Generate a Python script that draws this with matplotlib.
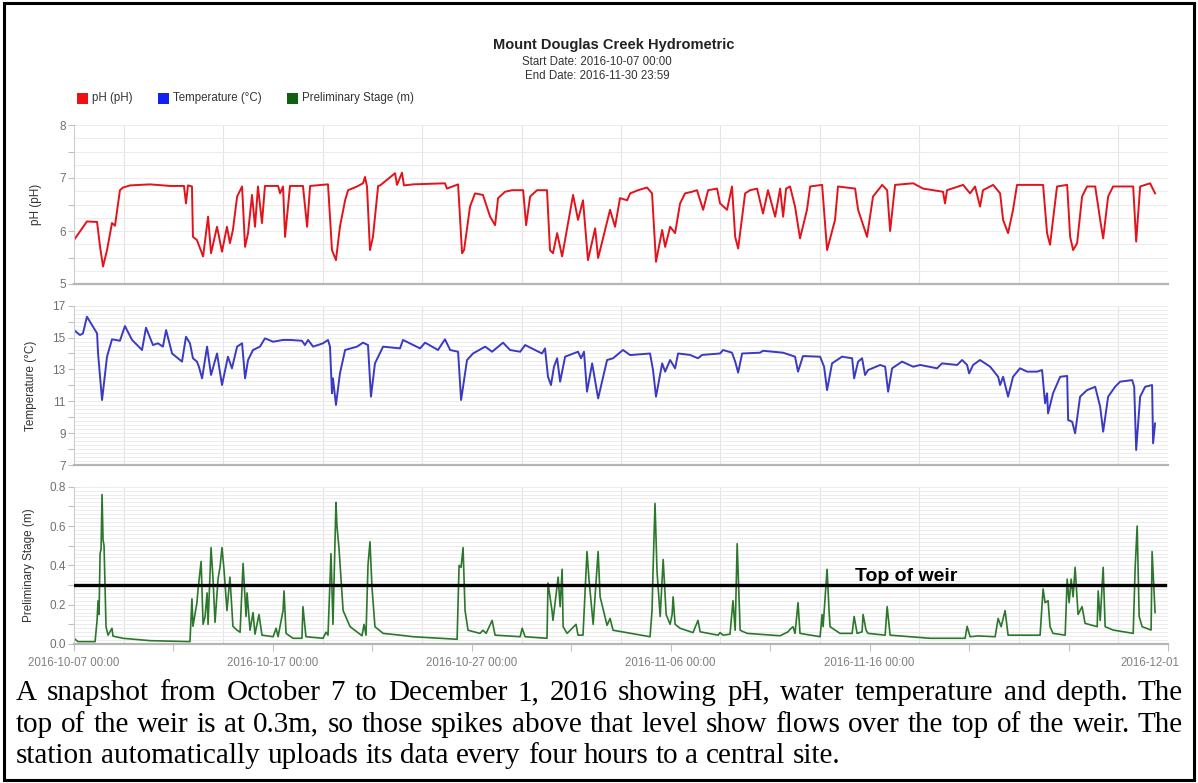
import numpy as np
import pandas as pd
import matplotlib
matplotlib.use("Agg")
import matplotlib.pyplot as plt
import matplotlib.dates as mdates
from matplotlib.ticker import MultipleLocator, FixedLocator, FuncFormatter
from matplotlib.transforms import ScaledTranslation
from matplotlib.patches import Rectangle

# ---------------------------------------------------------------------
# Data (days since 2016-10-07 00:00)
# ---------------------------------------------------------------------
START = pd.Timestamp("2016-10-07 00:00")
N_DAYS = 55

ph_days = [0.00, 0.65, 1.16, 1.31, 1.46, 1.66, 1.91, 2.06, 2.31, 2.46,
           2.82, 3.82, 4.83, 5.53, 5.63, 5.73, 5.93, 5.98, 6.18, 6.49,
           6.74, 6.89, 7.19, 7.44, 7.69, 7.84, 7.99, 8.20, 8.45, 8.60,
           8.75, 8.95, 9.10, 9.25, 9.45, 9.60, 10.26, 10.36, 10.51, 10.61,
           10.86, 11.51, 11.72, 11.87, 12.77, 12.97, 13.17, 13.37, 13.63, 13.78,
           14.23, 14.53, 14.63, 14.73, 14.88, 15.03, 15.29, 15.39, 16.14, 16.24,
           16.49, 16.59, 17.05, 18.65, 18.75, 19.31, 19.51, 19.61, 19.91, 20.16,
           20.56, 20.92, 21.17, 21.32, 21.67, 22.02, 22.58, 22.73, 22.93, 23.28,
           23.78, 23.93, 24.08, 24.29, 24.54, 25.09, 25.34, 25.59, 25.84, 26.20,
           26.35, 26.95, 27.20, 27.45, 27.81, 27.96, 28.36, 28.81, 29.06, 29.26,
           29.57, 29.72, 29.97, 30.22, 30.47, 30.72, 31.07, 31.32, 31.63, 31.88,
           32.33, 32.48, 32.83, 33.08, 33.24, 33.39, 33.74, 33.99, 34.34, 34.64,
           34.89, 35.25, 35.50, 35.65, 35.80, 36.00, 36.25, 36.50, 36.85, 37.01,
           37.61, 37.86, 38.26, 38.41, 39.27, 39.42, 39.87, 40.17, 40.63, 40.88,
           41.03, 41.28, 42.19, 42.69, 43.69, 43.79, 43.89, 44.70, 45.05, 45.30,
           45.55, 45.70, 46.21, 46.56, 46.71, 46.96, 47.21, 47.41, 48.72, 48.92,
           49.07, 49.42, 49.93, 50.08, 50.23, 50.43, 50.68, 50.93, 51.34, 51.59,
           51.74, 51.99, 52.24, 53.25, 53.40, 53.60, 54.10, 54.35]
ph_vals = [5.83, 6.18, 6.17, 5.70, 5.33, 5.64, 6.15, 6.10, 6.77, 6.82,
           6.86, 6.88, 6.85, 6.85, 6.52, 6.86, 6.84, 5.89, 5.83, 5.52,
           6.27, 5.58, 6.08, 5.61, 6.08, 5.77, 6.02, 6.65, 6.84, 5.70,
           5.96, 6.68, 6.08, 6.84, 6.15, 6.85, 6.85, 6.71, 6.84, 5.89,
           6.85, 6.85, 6.08, 6.85, 6.88, 5.64, 5.45, 6.08, 6.58, 6.77,
           6.84, 6.90, 7.02, 6.84, 5.64, 5.89, 6.85, 6.86, 7.09, 6.87,
           7.10, 6.86, 6.88, 6.90, 6.80, 6.88, 5.58, 5.64, 6.46, 6.71,
           6.68, 6.27, 6.11, 6.62, 6.74, 6.77, 6.77, 6.11, 6.65, 6.77,
           6.77, 5.64, 5.58, 5.96, 5.52, 6.68, 6.21, 6.58, 5.45, 6.05,
           5.49, 6.40, 6.08, 6.62, 6.58, 6.71, 6.77, 6.82, 6.71, 5.42,
           6.02, 5.70, 6.08, 5.96, 6.52, 6.71, 6.74, 6.77, 6.40, 6.77,
           6.80, 6.52, 6.40, 6.84, 5.89, 5.67, 6.71, 6.77, 6.80, 6.33,
           6.77, 6.27, 6.80, 6.27, 6.80, 6.84, 6.46, 5.86, 6.40, 6.84,
           6.87, 5.64, 6.21, 6.84, 6.80, 6.40, 5.89, 6.65, 6.87, 6.77,
           6.00, 6.87, 6.90, 6.80, 6.74, 6.52, 6.77, 6.87, 6.71, 6.84,
           6.46, 6.77, 6.87, 6.71, 6.21, 5.96, 6.40, 6.87, 6.87, 5.96,
           5.74, 6.84, 6.87, 5.89, 5.64, 5.77, 6.65, 6.84, 6.84, 6.21,
           5.86, 6.65, 6.84, 6.84, 5.80, 6.84, 6.90, 6.71]

temp_days = [0.00, 0.30, 0.45, 0.65, 1.16, 1.21, 1.41, 1.66, 1.91, 2.31,
             2.56, 2.92, 3.42, 3.62, 3.97, 4.22, 4.47, 4.63, 4.93, 5.43,
             5.63, 5.83, 5.98, 6.18, 6.28, 6.44, 6.69, 6.89, 7.19, 7.44,
             7.74, 7.94, 8.20, 8.45, 8.60, 8.75, 9.00, 9.35, 9.60, 10.01,
             10.51, 10.86, 11.46, 11.61, 11.77, 12.02, 12.52, 12.77, 12.87, 12.97,
             13.02, 13.17, 13.37, 13.63, 14.23, 14.53, 14.78, 14.93, 15.13, 15.54,
             16.39, 16.54, 17.40, 17.65, 18.30, 18.65, 18.91, 19.31, 19.46, 19.76,
             20.06, 20.67, 21.02, 21.57, 21.92, 22.43, 22.68, 23.53, 23.68, 23.83,
             23.98, 24.13, 24.29, 24.44, 24.69, 25.34, 25.49, 25.64, 25.79, 26.05,
             26.35, 26.80, 27.10, 27.60, 27.96, 28.96, 29.11, 29.26, 29.57, 29.72,
             29.97, 30.22, 30.37, 30.97, 31.37, 31.58, 32.48, 32.63, 33.08, 33.24,
             33.39, 33.59, 34.49, 34.64, 35.65, 36.25, 36.40, 36.65, 37.51, 37.71,
             37.86, 38.11, 38.61, 39.12, 39.22, 39.42, 39.62, 39.77, 39.92, 40.53,
             40.78, 40.93, 41.13, 41.63, 42.19, 42.54, 43.39, 43.64, 44.40, 44.65,
             44.90, 45.00, 45.20, 45.55, 46.06, 46.46, 46.56, 46.71, 46.96, 47.21,
             47.56, 47.92, 48.42, 48.67, 48.82, 48.92, 48.97, 49.22, 49.58, 49.93,
             49.98, 50.18, 50.33, 50.58, 50.93, 51.34, 51.59, 51.74, 51.99, 52.34,
             52.59, 53.20, 53.30, 53.40, 53.60, 53.85, 54.20, 54.25, 54.35]
temp_vals = [15.47, 15.16, 15.26, 16.31, 15.26, 14.00, 11.08, 13.80, 14.89, 14.80,
             15.72, 14.85, 14.22, 15.62, 14.53, 14.64, 14.43, 15.47, 14.00, 13.49,
             15.05, 14.64, 13.70, 13.49, 13.17, 12.44, 14.43, 12.65, 14.00, 12.02,
             13.80, 13.07, 14.43, 14.64, 12.44, 13.59, 14.22, 14.43, 14.95, 14.74,
             14.85, 14.85, 14.80, 14.53, 14.85, 14.43, 14.64, 14.85, 14.43, 11.50,
             12.44, 10.77, 12.75, 14.22, 14.43, 14.68, 14.53, 11.29, 13.38, 14.43,
             14.32, 14.85, 14.32, 14.68, 14.22, 14.89, 14.22, 14.11, 11.08, 13.59,
             14.00, 14.43, 14.11, 14.68, 14.22, 14.11, 14.53, 14.00, 14.32, 12.54,
             12.02, 13.17, 13.70, 12.23, 13.80, 14.11, 13.70, 14.11, 11.60, 13.38,
             11.18, 13.59, 13.70, 14.22, 13.90, 14.00, 12.96, 11.29, 13.38, 12.86,
             13.59, 13.07, 14.00, 13.91, 13.70, 13.91, 14.00, 14.22, 14.05, 13.49,
             12.80, 14.00, 14.05, 14.17, 14.05, 13.80, 12.86, 13.84, 13.80, 13.17,
             11.70, 13.38, 13.80, 13.70, 12.44, 13.49, 13.70, 12.65, 12.96, 13.28,
             13.17, 11.60, 13.07, 13.49, 13.17, 13.28, 13.07, 13.38, 13.28, 13.59,
             13.28, 12.75, 13.28, 13.59, 13.17, 12.54, 12.02, 12.54, 11.29, 12.54,
             13.07, 12.86, 12.86, 12.96, 10.87, 11.50, 10.24, 11.50, 12.54, 12.59,
             9.82, 9.72, 8.99, 11.29, 11.70, 11.91, 10.66, 9.09, 11.29, 11.91,
             12.23, 12.33, 11.91, 7.94, 11.29, 11.91, 12.02, 8.36, 9.61]

stage_days = [0.00, 0.20, 1.06, 1.16, 1.21, 1.26, 1.31, 1.36, 1.41, 1.46,
              1.51, 1.61, 1.71, 1.91, 1.96, 2.46, 3.82, 5.83, 5.93, 5.98,
              6.18, 6.23, 6.39, 6.49, 6.59, 6.69, 6.74, 6.89, 6.99, 7.09,
              7.24, 7.34, 7.44, 7.54, 7.69, 7.84, 7.99, 8.20, 8.35, 8.50,
              8.65, 8.70, 8.85, 9.00, 9.10, 9.30, 9.45, 10.01, 10.16, 10.26,
              10.51, 10.56, 10.66, 11.01, 11.46, 11.51, 11.66, 12.52, 12.67, 12.77,
              12.92, 13.02, 13.17, 13.22, 13.32, 13.53, 13.88, 14.48, 14.58, 14.68,
              14.78, 14.88, 14.98, 15.13, 15.54, 16.39, 17.05, 19.26, 19.36, 19.46,
              19.56, 19.66, 19.81, 20.41, 20.56, 20.72, 21.02, 21.17, 22.43, 22.53,
              22.68, 23.78, 23.83, 23.93, 24.03, 24.08, 24.34, 24.44, 24.54, 24.59,
              24.79, 25.24, 25.34, 25.59, 25.79, 25.89, 26.10, 26.35, 26.45, 26.80,
              26.95, 27.10, 28.96, 29.06, 29.11, 29.21, 29.31, 29.47, 29.62, 29.77,
              29.97, 30.07, 30.12, 30.22, 30.47, 31.12, 31.37, 31.48, 32.38, 32.48,
              32.63, 32.98, 33.13, 33.24, 33.34, 33.49, 33.84, 35.50, 35.90, 36.00,
              36.15, 36.25, 36.40, 36.50, 37.51, 37.61, 37.66, 37.86, 37.96, 38.01,
              38.51, 39.12, 39.22, 39.37, 39.62, 39.67, 39.82, 39.92, 40.78, 40.88,
              41.03, 43.04, 44.80, 44.90, 45.05, 45.45, 46.31, 46.46, 46.61, 46.81,
              46.96, 48.57, 48.72, 48.82, 48.97, 49.07, 49.22, 49.83, 49.93, 50.03,
              50.13, 50.23, 50.33, 50.48, 50.68, 50.83, 51.44, 51.49, 51.59, 51.74,
              51.84, 52.24, 53.25, 53.35, 53.45, 53.55, 53.70, 54.15, 54.20, 54.35]
stage_vals = [0.029, 0.012, 0.012, 0.12, 0.22, 0.15, 0.46, 0.48, 0.76, 0.53,
              0.50, 0.088, 0.045, 0.08, 0.04, 0.029, 0.017, 0.012, 0.23, 0.09,
              0.21, 0.27, 0.42, 0.10, 0.14, 0.26, 0.10, 0.49, 0.33, 0.11,
              0.33, 0.39, 0.49, 0.38, 0.17, 0.34, 0.09, 0.07, 0.06, 0.41,
              0.14, 0.26, 0.07, 0.16, 0.05, 0.15, 0.045, 0.037, 0.08, 0.037,
              0.17, 0.27, 0.054, 0.029, 0.029, 0.19, 0.037, 0.029, 0.06, 0.045,
              0.46, 0.10, 0.72, 0.60, 0.49, 0.17, 0.088, 0.042, 0.10, 0.045,
              0.40, 0.52, 0.29, 0.088, 0.054, 0.045, 0.037, 0.024, 0.40, 0.39,
              0.49, 0.17, 0.07, 0.054, 0.07, 0.054, 0.12, 0.045, 0.037, 0.08,
              0.037, 0.029, 0.31, 0.24, 0.17, 0.12, 0.34, 0.19, 0.38, 0.088,
              0.054, 0.10, 0.045, 0.045, 0.47, 0.33, 0.10, 0.47, 0.24, 0.095,
              0.13, 0.07, 0.037, 0.17, 0.37, 0.715, 0.37, 0.14, 0.43, 0.15,
              0.10, 0.15, 0.24, 0.10, 0.08, 0.058, 0.12, 0.062, 0.045, 0.058,
              0.045, 0.05, 0.22, 0.07, 0.51, 0.07, 0.054, 0.042, 0.062, 0.075,
              0.088, 0.054, 0.21, 0.054, 0.037, 0.15, 0.088, 0.38, 0.17, 0.088,
              0.054, 0.054, 0.14, 0.054, 0.062, 0.15, 0.07, 0.054, 0.045, 0.19,
              0.045, 0.029, 0.029, 0.09, 0.037, 0.041, 0.037, 0.13, 0.088, 0.17,
              0.045, 0.045, 0.28, 0.21, 0.22, 0.088, 0.054, 0.045, 0.33, 0.21,
              0.33, 0.24, 0.39, 0.15, 0.19, 0.105, 0.088, 0.27, 0.12, 0.39,
              0.088, 0.071, 0.054, 0.39, 0.60, 0.14, 0.088, 0.071, 0.47, 0.16]

weir_level = 0.3

xtick_days = [0, 5, 10, 15, 20, 25, 30, 35, 40, 45, 50, 55]
xtick_labels = ["2016-10-07 00:00", "", "2016-10-17 00:00", "", "2016-10-27 00:00", "",
                "2016-11-06 00:00", "", "2016-11-16 00:00", "", "", "2016-12-01"]

series_names = ["pH (pH)", "Temperature (\u00b0C)", "Preliminary Stage (m)"]
series_colors = ["#e3121b", "#3a3ac4", "#2b772b"]
legend_colors = ["#ee1111", "#1122ee", "#0f600f"]

caption_lines = [
    "A snapshot from October 7 to December 1, 2016 showing pH, water temperature and depth. The",
    "top of the weir is at 0.3m, so those spikes above that level show flows over the top of the weir. The",
    "station automatically uploads its data every four hours to a central site.",
]

# ---------------------------------------------------------------------
W, H = 1198, 783
fig = plt.figure(figsize=(W / 100, H / 100), dpi=100)
plt.rcParams["font.family"] = ["Liberation Sans", "DejaVu Sans"]


def fx(px):
    return px / W


def fy(py):
    return 1 - py / H


def to_time(days):
    return START + pd.to_timedelta(np.asarray(days), unit="D")


x_left, x_right = 74, 1168
panel_rows = [(125, 284), (305.7, 465), (486.7, 644)]

grid_days = np.arange(2.5, N_DAYS, 5.0)
grid_pos = mdates.date2num(to_time(grid_days))
tick_pos = mdates.date2num(to_time(xtick_days))

axes = []
for top, bottom in panel_rows:
    ax = fig.add_axes([fx(x_left), fy(bottom), (x_right - x_left) / W, (bottom - top) / H])
    ax.set_xlim(START, START + pd.Timedelta(days=N_DAYS))
    for s in ["top", "right"]:
        ax.spines[s].set_visible(False)
    ax.spines["left"].set_color("#cccccc")
    ax.spines["left"].set_linewidth(0.8)
    ax.spines["bottom"].set_color("#b5b5b5")
    ax.spines["bottom"].set_linewidth(1.6)
    ax.xaxis.set_major_locator(FixedLocator(tick_pos))
    ax.xaxis.set_minor_locator(FixedLocator(grid_pos))
    ax.grid(which="minor", axis="x", color="#e4e4e4", lw=0.8)
    ax.grid(which="both", axis="y", color="#ececec", lw=0.7)
    ax.set_axisbelow(True)
    ax.tick_params(axis="y", which="major", direction="out", length=4, width=0.8,
                   color="#c0c0c0", labelcolor="#707070", labelsize=8.5, pad=2)
    ax.tick_params(axis="both", which="minor", length=0)
    ax.tick_params(axis="x", which="major", length=0, labelbottom=False)
    axes.append(ax)

ax_ph, ax_t, ax_s = axes

# pH
ax_ph.plot(to_time(ph_days), ph_vals, color=series_colors[0], lw=1.4)
ax_ph.set_ylim(5, 8)
ax_ph.yaxis.set_major_locator(MultipleLocator(0.5))
ax_ph.yaxis.set_minor_locator(MultipleLocator(0.25))
ax_ph.yaxis.set_major_formatter(FuncFormatter(
    lambda v, p: f"{v:.0f}" if abs(v - round(v)) < 1e-6 else ""))

# temperature
ax_t.plot(to_time(temp_days), temp_vals, color=series_colors[1], lw=1.4)
ax_t.set_ylim(7, 17)
ax_t.yaxis.set_major_locator(MultipleLocator(1))
ax_t.yaxis.set_minor_locator(MultipleLocator(0.25))
ax_t.yaxis.set_major_formatter(FuncFormatter(
    lambda v, p: f"{v:.0f}" if round(v) % 2 == 1 else ""))

# stage
ax_s.plot(to_time(stage_days), stage_vals, color=series_colors[2], lw=1.2)
ax_s.set_ylim(0, 0.8)
ax_s.yaxis.set_major_locator(MultipleLocator(0.1))
ax_s.yaxis.set_minor_locator(MultipleLocator(0.02))
ax_s.yaxis.set_major_formatter(FuncFormatter(
    lambda v, p: f"{v:.1f}" if round(v * 10) % 2 == 0 else ""))
ax_s.axhline(weir_level, xmin=0, xmax=0.997, color="black", lw=2.4, zorder=4)
ax_s.text(to_time([39.27])[0], 0.318, "Top of weir", fontsize=14, fontweight="bold",
          color="black", va="baseline", ha="left", zorder=5)
ax_s.tick_params(axis="x", which="major", length=5, width=0.8, color="#c0c0c0",
                 labelbottom=True, labelcolor="#808080", labelsize=8.3, pad=4,
                 direction="out")
ax_s.set_xticklabels(xtick_labels)
last = ax_s.get_xticklabels()[-1]
last.set_horizontalalignment("right")
last.set_transform(last.get_transform() + ScaledTranslation(11 / 100, 0, fig.dpi_scale_trans))

ax_ph.set_ylabel(series_names[0], fontsize=8.5, color="#333333")
ax_ph.yaxis.set_label_coords((42 - x_left) / (x_right - x_left), 0.5)
ax_t.set_ylabel(series_names[1], fontsize=8.5, color="#333333")
ax_t.yaxis.set_label_coords((37 - x_left) / (x_right - x_left), 0.5)
ax_s.set_ylabel(series_names[2], fontsize=8.5, color="#333333")
ax_s.yaxis.set_label_coords((35 - x_left) / (x_right - x_left), 0.5)

# title block
fig.text(fx(614), fy(45), "Mount Douglas Creek Hydrometric", fontsize=10.5,
         fontweight="bold", color="#222222", ha="center", va="center")
fig.text(fx(597), fy(62), "Start Date: 2016-10-07 00:00", fontsize=8.3,
         color="#333333", ha="center", va="center")
fig.text(fx(597), fy(76), "End Date: 2016-11-30 23:59", fontsize=8.3,
         color="#333333", ha="center", va="center")

# legend
legend_x = [77, 158, 287]
for x0, name, col in zip(legend_x, series_names, legend_colors):
    fig.patches.append(Rectangle((fx(x0), fy(104)), 11 / W, 11 / H, transform=fig.transFigure,
                                 facecolor=col, edgecolor="none"))
    fig.text(fx(x0 + 15), fy(98.5), name, fontsize=8.3, color="#333333",
             ha="left", va="center")

# outer frame
fig.patches.append(Rectangle((fx(4), fy(780)), 1190 / W, 777 / H, transform=fig.transFigure,
                             facecolor="none", edgecolor="black", lw=2.2))

# caption, justified like the original page
renderer = fig.canvas.get_renderer()
cap_x0, cap_x1 = 16, 1183
cap_size = 21
baselines = [700, 731.5, 763]
for i, (line, yb) in enumerate(zip(caption_lines, baselines)):
    words = line.split()
    arts = [fig.text(0, fy(yb), w, fontsize=cap_size, family="Liberation Serif",
                     color="black", ha="left", va="baseline") for w in words]
    widths = [a.get_window_extent(renderer).width for a in arts]
    if i < len(caption_lines) - 1:
        gap = ((cap_x1 - cap_x0) - sum(widths)) / (len(words) - 1)
    else:
        gap = 0.25 * cap_size * 100 / 72
    xpos = cap_x0
    for a, w in zip(arts, widths):
        a.set_x(fx(xpos))
        xpos += w + gap

fig.savefig("out.png", dpi=100)
